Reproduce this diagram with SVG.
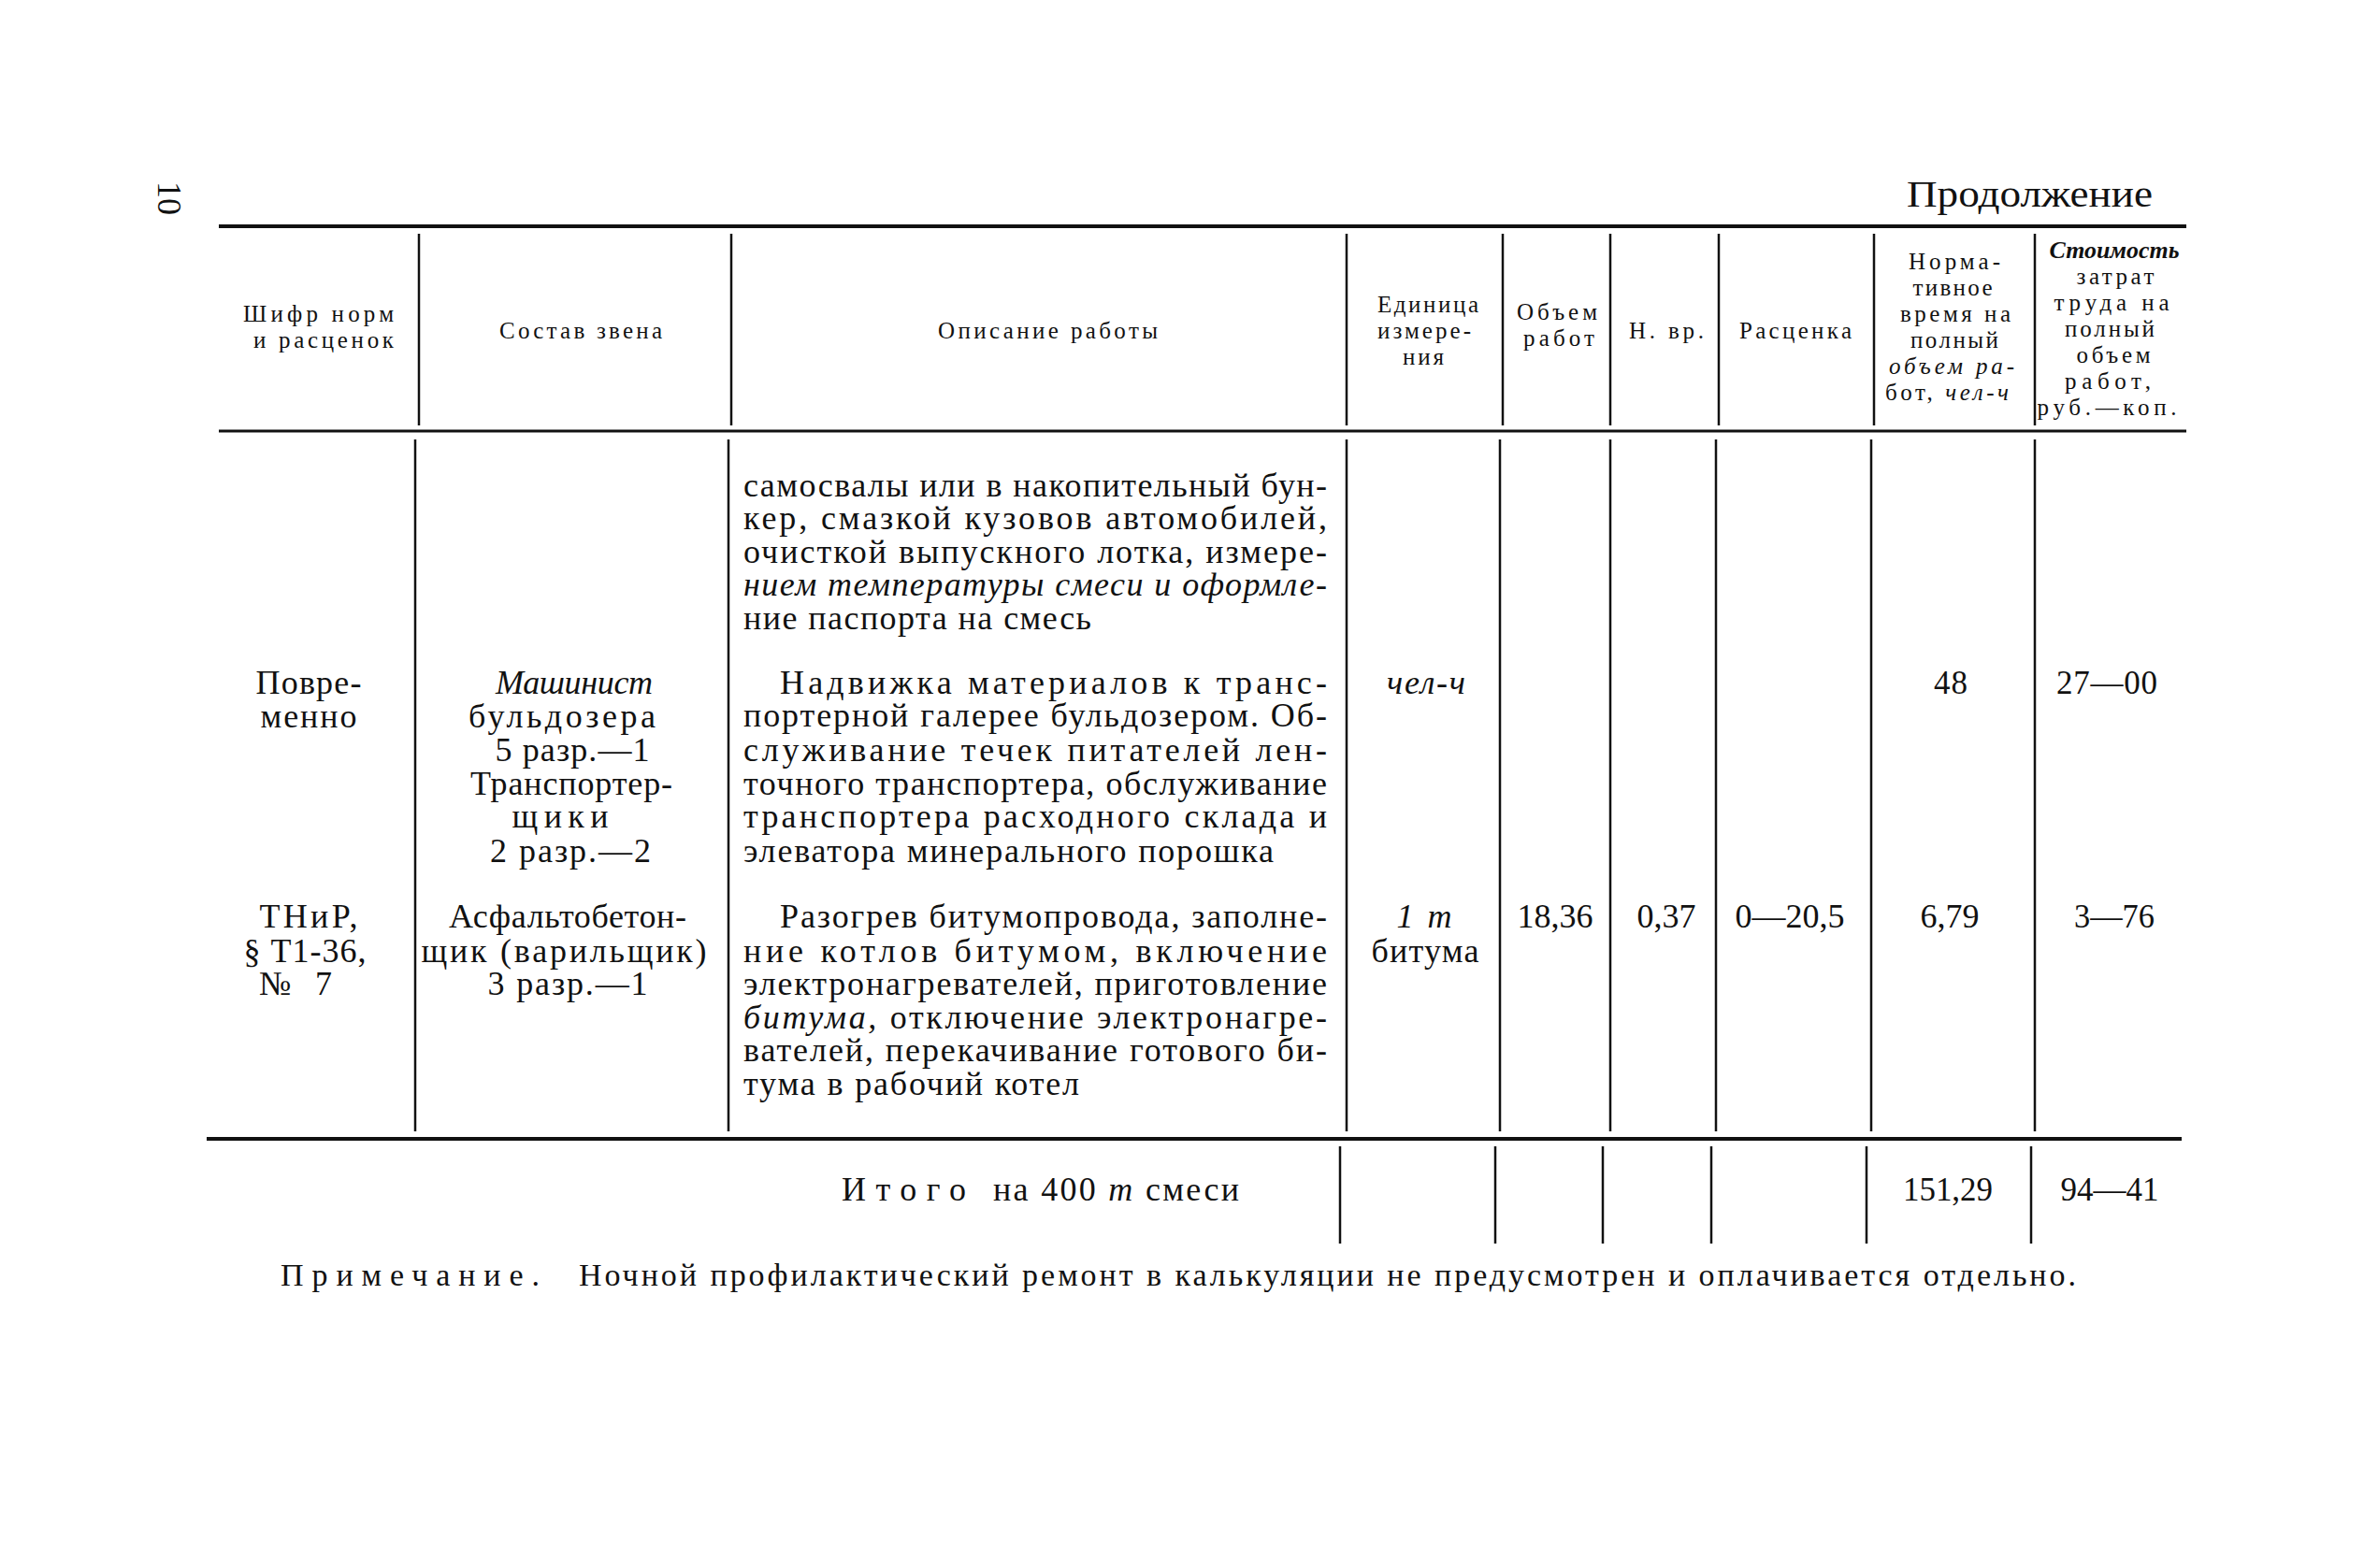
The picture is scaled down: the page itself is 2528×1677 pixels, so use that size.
<svg xmlns="http://www.w3.org/2000/svg" width="2528" height="1677" viewBox="0 0 2528 1677">
<style>
text { font-family: "Liberation Serif", "DejaVu Serif", serif; fill: #111; }
.h { font-size: 25px; }
.b { font-size: 36px; }
.n { font-size: 35px; }
.i { font-style: italic; }
.m { text-anchor: middle; }
.rule { stroke: #111; fill: none; }
.v { stroke: #111; stroke-width: 2.5; fill: none; }
</style>
<rect width="2528" height="1677" fill="#fff"/>

<g id="page-number">
<text transform="translate(169,212) rotate(90)" text-anchor="middle" font-size="36">10</text>
</g>
<g id="continuation">
<text x="2039" y="221" font-size="40" textLength="263" lengthAdjust="spacingAndGlyphs">Продолжение</text>
</g>

<g id="connectors">
<line class="rule" x1="234" y1="242" x2="2338" y2="242" stroke-width="4"/>
<line class="rule" x1="234" y1="461" x2="2338" y2="461" stroke-width="3"/>
<line class="rule" x1="221" y1="1218" x2="2333" y2="1218" stroke-width="4"/>
<line class="v" x1="448" y1="250" x2="448" y2="455"/>
<line class="v" x1="782" y1="250" x2="782" y2="455"/>
<line class="v" x1="1440" y1="250" x2="1440" y2="455"/>
<line class="v" x1="1607" y1="250" x2="1607" y2="455"/>
<line class="v" x1="1722" y1="250" x2="1722" y2="455"/>
<line class="v" x1="1838" y1="250" x2="1838" y2="455"/>
<line class="v" x1="2004" y1="250" x2="2004" y2="455"/>
<line class="v" x1="2176" y1="250" x2="2176" y2="455"/>
<line class="v" x1="444" y1="470" x2="444" y2="1210"/>
<line class="v" x1="779" y1="470" x2="779" y2="1210"/>
<line class="v" x1="1440" y1="470" x2="1440" y2="1210"/>
<line class="v" x1="1604" y1="470" x2="1604" y2="1210"/>
<line class="v" x1="1722" y1="470" x2="1722" y2="1210"/>
<line class="v" x1="1835" y1="470" x2="1835" y2="1210"/>
<line class="v" x1="2001" y1="470" x2="2001" y2="1210"/>
<line class="v" x1="2176" y1="470" x2="2176" y2="1210"/>
<line class="v" x1="1433" y1="1226" x2="1433" y2="1330"/>
<line class="v" x1="1599" y1="1226" x2="1599" y2="1330"/>
<line class="v" x1="1714" y1="1226" x2="1714" y2="1330"/>
<line class="v" x1="1830" y1="1226" x2="1830" y2="1330"/>
<line class="v" x1="1996" y1="1226" x2="1996" y2="1330"/>
<line class="v" x1="2172" y1="1226" x2="2172" y2="1330"/>
</g>

<g id="header">
<g id="h-code">
<text class="h" x="260" y="344" textLength="161" lengthAdjust="spacing">Шифр норм</text>
<text class="h" x="271" y="372" textLength="150" lengthAdjust="spacing">и расценок</text>
</g>
<g id="h-team"><text class="h" x="534" y="362" textLength="174" lengthAdjust="spacing">Состав звена</text></g>
<g id="h-desc"><text class="h" x="1003" y="362" textLength="235" lengthAdjust="spacing">Описание работы</text></g>
<g id="h-unit">
<text class="h m" x="1527" y="334" textLength="108" lengthAdjust="spacing">Единица</text>
<text class="h m" x="1523" y="362" textLength="100" lengthAdjust="spacing">измере-</text>
<text class="h m" x="1522" y="390" textLength="44" lengthAdjust="spacing">ния</text>
</g>
<g id="h-volume">
<text class="h m" x="1665" y="342" textLength="86" lengthAdjust="spacing">Объем</text>
<text class="h m" x="1667" y="370" textLength="76" lengthAdjust="spacing">работ</text>
</g>
<g id="h-norm"><text class="h m" x="1782" y="362" textLength="80" lengthAdjust="spacing">Н. вр.</text></g>
<g id="h-rate"><text class="h m" x="1920" y="362" textLength="120" lengthAdjust="spacing">Расценка</text></g>
<g id="h-time">
<text class="h m" x="2090" y="288" textLength="98" lengthAdjust="spacing">Норма-</text>
<text class="h m" x="2088" y="316" textLength="85" lengthAdjust="spacing">тивное</text>
<text class="h m" x="2091" y="344" textLength="118" lengthAdjust="spacing">время на</text>
<text class="h m" x="2090" y="372" textLength="94" lengthAdjust="spacing">полный</text>
<text class="h m i" x="2087" y="400" textLength="134" lengthAdjust="spacing">объем ра-</text>
<text class="h m" x="2082" y="428" textLength="132" lengthAdjust="spacing">бот, <tspan class="i">чел-ч</tspan></text>
</g>
<g id="h-cost">
<text class="h m i" x="2261" y="276" font-weight="bold" textLength="139" lengthAdjust="spacingAndGlyphs">Стоимость</text>
<text class="h m" x="2262" y="304" textLength="83" lengthAdjust="spacing">затрат</text>
<text class="h m" x="2258" y="332" textLength="123" lengthAdjust="spacing">труда на</text>
<text class="h m" x="2256" y="360" textLength="96" lengthAdjust="spacing">полный</text>
<text class="h m" x="2260" y="388" textLength="79" lengthAdjust="spacing">объем</text>
<text class="h m" x="2254" y="416" textLength="92" lengthAdjust="spacing">работ,</text>
<text class="h m" x="2253" y="444" textLength="149" lengthAdjust="spacing">руб.—коп.</text>
</g>
</g>

<g id="row1">
<g id="r1-desc">
<text class="b" x="795" y="531" textLength="624" lengthAdjust="spacing">самосвалы или в накопительный бун-</text>
<text class="b" x="795" y="566" textLength="624" lengthAdjust="spacing">кер, смазкой кузовов автомобилей,</text>
<text class="b" x="795" y="602" textLength="624" lengthAdjust="spacing">очисткой выпускного лотка, измере-</text>
<text class="b i" x="795" y="637" textLength="624" lengthAdjust="spacing">нием температуры смеси и оформле-</text>
<text class="b" x="795" y="673" textLength="372" lengthAdjust="spacing">ние паспорта на смесь</text>
</g>
</g>

<g id="row2">
<g id="r2-code">
<text class="b m" x="330" y="742" textLength="113" lengthAdjust="spacing">Повре-</text>
<text class="b m" x="330" y="778" textLength="103" lengthAdjust="spacing">менно</text>
</g>
<g id="r2-team">
<text class="b m i" x="614" y="742" textLength="168" lengthAdjust="spacing">Машинист</text>
<text class="b m" x="601" y="778" textLength="200" lengthAdjust="spacing">бульдозера</text>
<text class="b m" x="612" y="814" textLength="165" lengthAdjust="spacing">5 разр.—1</text>
<text class="b m" x="611" y="850" textLength="216" lengthAdjust="spacing">Транспортер-</text>
<text class="b m" x="599" y="885" textLength="103" lengthAdjust="spacing">щики</text>
<text class="b m" x="610" y="922" textLength="172" lengthAdjust="spacing">2 разр.—2</text>
</g>
<g id="r2-desc">
<text class="b" x="834" y="742" textLength="585" lengthAdjust="spacing">Надвижка материалов к транс-</text>
<text class="b" x="795" y="777" textLength="624" lengthAdjust="spacing">портерной галерее бульдозером. Об-</text>
<text class="b" x="795" y="814" textLength="624" lengthAdjust="spacing">служивание течек питателей лен-</text>
<text class="b" x="795" y="850" textLength="624" lengthAdjust="spacing">точного транспортера, обслуживание</text>
<text class="b" x="795" y="885" textLength="624" lengthAdjust="spacing">транспортера расходного склада и</text>
<text class="b" x="795" y="922" textLength="567" lengthAdjust="spacing">элеватора минерального порошка</text>
</g>
<g id="r2-unit"><text class="b m i" x="1525" y="742" textLength="84" lengthAdjust="spacing">чел-ч</text></g>
<g id="r2-time"><text class="n m" x="2086" y="742" textLength="36" lengthAdjust="spacing">48</text></g>
<g id="r2-cost"><text class="n m" x="2253" y="742" textLength="108" lengthAdjust="spacing">27—00</text></g>
</g>

<g id="row3">
<g id="r3-code">
<text class="b m" x="330" y="992" textLength="105" lengthAdjust="spacing">ТНиР,</text>
<text class="b m" x="326" y="1029" textLength="131" lengthAdjust="spacing">§ Т1-36,</text>
<text class="b m" x="316" y="1064" textLength="78" lengthAdjust="spacing">№ 7</text>
</g>
<g id="r3-team">
<text class="b m" x="607" y="992" textLength="254" lengthAdjust="spacing">Асфальтобетон-</text>
<text class="b m" x="603" y="1029" textLength="305" lengthAdjust="spacing">щик (варильщик)</text>
<text class="b m" x="607" y="1064" textLength="171" lengthAdjust="spacing">3 разр.—1</text>
</g>
<g id="r3-desc">
<text class="b" x="834" y="992" textLength="585" lengthAdjust="spacing">Разогрев битумопровода, заполне-</text>
<text class="b" x="795" y="1029" textLength="624" lengthAdjust="spacing">ние котлов битумом, включение</text>
<text class="b" x="795" y="1064" textLength="624" lengthAdjust="spacing">электронагревателей, приготовление</text>
<text class="b" x="795" y="1100" textLength="624" lengthAdjust="spacing"><tspan class="i">битума,</tspan> отключение электронагре-</text>
<text class="b" x="795" y="1135" textLength="624" lengthAdjust="spacing">вателей, перекачивание готового би-</text>
<text class="b" x="795" y="1171" textLength="359" lengthAdjust="spacing">тума в рабочий котел</text>
</g>
<g id="r3-unit">
<text class="b m i" x="1523" y="992" textLength="59" lengthAdjust="spacing">1 т</text>
<text class="b m" x="1524" y="1029" textLength="115" lengthAdjust="spacing">битума</text>
</g>
<g id="r3-volume"><text class="n m" x="1663" y="992" textLength="81" lengthAdjust="spacingAndGlyphs">18,36</text></g>
<g id="r3-norm"><text class="n m" x="1782" y="992" textLength="63" lengthAdjust="spacingAndGlyphs">0,37</text></g>
<g id="r3-rate"><text class="n m" x="1914" y="992" textLength="117" lengthAdjust="spacingAndGlyphs">0—20,5</text></g>
<g id="r3-time"><text class="n m" x="2085" y="992" textLength="63" lengthAdjust="spacingAndGlyphs">6,79</text></g>
<g id="r3-cost"><text class="n m" x="2261" y="992" textLength="86" lengthAdjust="spacingAndGlyphs">3—76</text></g>
</g>

<g id="totals">
<text class="b" x="900" y="1284" textLength="133" lengthAdjust="spacing">Итого</text>
<text class="b" x="1062" y="1284" textLength="263" lengthAdjust="spacing">на 400 <tspan class="i">т</tspan> смеси</text>
<text class="n m" x="2083" y="1284" textLength="96" lengthAdjust="spacingAndGlyphs">151,29</text>
<text class="n m" x="2256" y="1284" textLength="105" lengthAdjust="spacingAndGlyphs">94—41</text>
</g>

<g id="note">
<text x="300" y="1375" font-size="34" textLength="277" lengthAdjust="spacing">Примечание.</text>
<text x="619" y="1375" font-size="34" textLength="1601" lengthAdjust="spacing">Ночной профилактический ремонт в калькуляции не предусмотрен и оплачивается отдельно.</text>
</g>
</svg>
